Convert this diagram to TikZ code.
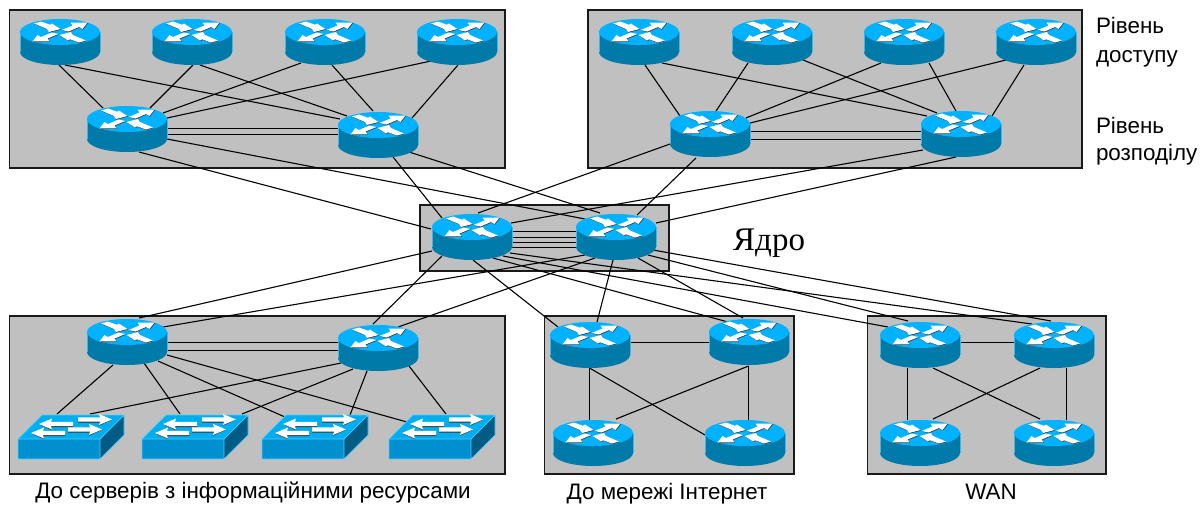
\documentclass[tikz,border=0pt]{standalone}
\usepackage{fontspec}
\setmainfont{Liberation Sans}
\newfontfamily\serfont{Liberation Serif}
\definecolor{rtrtop}{HTML}{00B2FF}
\definecolor{rtrside}{HTML}{007AA8}
\definecolor{rtredge}{HTML}{40B8E8}
\definecolor{swtop}{HTML}{00AEF0}
\definecolor{swfront}{HTML}{0090D0}
\definecolor{swside}{HTML}{005C85}
\definecolor{swedge}{HTML}{50CCFF}
\definecolor{panelgrey}{HTML}{C0C0C0}
\pgfdeclarelayer{panels}
\pgfdeclarelayer{links}
\pgfsetlayers{panels,links,main}
% router arrows, relative to the centre of the top ellipse
\newcommand\rtrpoly[1]{%
  \fill[#1] (-26,-8.5)--(-19,-10.5)--(-10,-7.3)--(-8,-8.5)--(0.5,-3)--(-11,0)--(-13,-3)--cycle;
  \fill[#1] (1.5,-2)--(12.5,-6.5)--(10.5,-9.3)--(27.5,-9.5)--(22.5,-3)--(19,-5)--(8.5,-0.5)--cycle;
  \fill[#1] (-1.5,2)--(-12.5,6.5)--(-10.5,9.3)--(-27.5,9.5)--(-22.5,3)--(-19,5)--(-8.5,0.5)--cycle;
  \fill[#1] (26,8.5)--(19,10.5)--(10,7.3)--(8,8.5)--(-0.5,3)--(11,0)--(13,3)--cycle;
}
\newcommand\rtr[3]{%
  \node[rtrnode] (#1) at (#2,#3) {};
  \begin{scope}[shift={(#2,#3)}]
    \fill[rtrside] (-40,-10)--(-40,10) arc[start angle=180,end angle=0,x radius=40,y radius=13]--(40,-10)--cycle;
    \draw[rtredge,line width=0.6pt] (-40,-10)--(-40,10) (40,-10)--(40,10);
    \fill[rtrtop] (0,-10) ellipse[x radius=40,y radius=13];
    \begin{scope}[shift={(0.5,-9.4)}]\rtrpoly{black!80}\end{scope}
    \begin{scope}[shift={(0,-10)}]\rtrpoly{white}\end{scope}
  \end{scope}}
\newcommand\swa[3]{%
  \begin{scope}[shift={(#1,#2)},xscale=#3]
    \fill[black!80] (0.5,0.6)--(13,6.2)--(12,3)--(34,3)--(34,1)--(12,1)--cycle;
    \fill[white] (0,0)--(13,-5.5)--(12,-2.2)--(34,-2.2)--(34,2.2)--(12,2.2)--(13,5.5)--cycle;
  \end{scope}}
\newcommand\swt[3]{%
  \node[swnode] (#1) at (#2,#3) {};
  \begin{scope}[shift={(#2,#3)}]
    \fill[swtop] (-53,2)--(-29,-22)--(53,-22)--(29,2)--cycle;
    \fill[swfront] (-53,2) rectangle (29,22);
    \fill[swside] (29,2)--(53,-22)--(53,-2)--(29,22)--cycle;
    \draw[swedge,line width=0.7pt,line join=round] (-53,2)--(-29,-22)--(53,-22)--(29,2)--cycle (-53,2)--(-53,22)--(29,22)--(29,2) (29,22)--(53,-2)--(53,-22);
    \swa{-32}{-13}{1}
    \swa{41}{-17.5}{-1}
    \swa{-40}{-4}{1}
    \swa{31}{-7.5}{-1}
  \end{scope}}
\newcommand\cn[4]{\draw[linkline] ([shift={(#2)}]#1.center) -- ([shift={(#4)}]#3.center);}
\tikzset{
  rtrnode/.style={rectangle,inner sep=0pt,outer sep=0pt,minimum width=80pt,minimum height=46pt},
  swnode/.style={rectangle,inner sep=0pt,outer sep=0pt,minimum width=106pt,minimum height=44pt},
  panel/.style={fill=panelgrey,draw=black!90,line width=1.1pt},
  linkline/.style={draw=black,line width=1.1pt},
  lbl/.style={inner sep=0pt,outer sep=0pt,font=\fontsize{22.4}{26}\selectfont}
}
\begin{document}
\begin{tikzpicture}[x=1pt,y=-1pt]
\useasboundingbox (0,0) rectangle (1201,504);
\begin{pgfonlayer}{panels}
  \fill[white] (0,0) rectangle (1201,504);
  \draw[panel] (9.5,10) rectangle (505,168);
  \draw[panel] (588,10) rectangle (1082,168);
  \draw[panel] (420,205) rectangle (669,271);
  \draw[panel] (9.5,316) rectangle (505,474);
  \draw[panel] (544.5,316) rectangle (794,474);
  \draw[panel] (867.5,316) rectangle (1106,474);
\end{pgfonlayer}
% routers
\rtr{A1}{60}{42}
\rtr{A2}{192}{42}
\rtr{A3}{325}{42}
\rtr{A4}{457}{42}
\rtr{D1}{127}{129}
\rtr{D2}{378}{135}
\rtr{B1}{639}{42}
\rtr{B2}{772}{42}
\rtr{B3}{904}{42}
\rtr{B4}{1036}{42}
\rtr{E1}{710}{134}
\rtr{E2}{961}{134}
\rtr{C1}{472}{237}
\rtr{C2}{616}{237}
\rtr{F1}{127}{342}
\rtr{F2}{378}{348}
\rtr{I1}{590}{345}
\rtr{I2}{749}{342}
\rtr{I3}{593}{443}
\rtr{I4}{745}{443}
\rtr{W1}{920}{345}
\rtr{W2}{1054}{345}
\rtr{W3}{920}{443}
\rtr{W4}{1054}{443}
% switches
\swt{S1}{71}{437}
\swt{S2}{195}{437}
\swt{S3}{315}{437}
\swt{S4}{442}{437}
% connectors
\begin{pgfonlayer}{links}
\cn{A1}{-1,23}{D1}{-24,-21}
\cn{A1}{5,23}{D2}{-38,-16}
\cn{A2}{1,23}{D1}{23,-21}
\cn{A2}{8,23}{D2}{-31,-19}
\cn{A3}{-24,21}{D1}{36,-16}
\cn{A3}{7,23}{D2}{-5,-24}
\cn{A4}{-26,19}{D1}{40,-11}
\cn{A4}{1,23}{D2}{34,-17}
\cn{D1}{40,-0.5}{D2}{-40,-6.5}
\cn{D1}{40,5.5}{D2}{-40,-0.5}
\cn{D1}{40,10}{C2}{-31,-18}
\cn{D1}{12,23}{C1}{-41,-8}
\cn{D2}{15,22}{C1}{-30,-19}
\cn{D2}{31,17}{C2}{-16,-24}
\cn{B1}{6,23}{E1}{-30,-18}
\cn{B1}{23,21}{E2}{-34,-18}
\cn{B2}{-24,21}{E1}{6,-23}
\cn{B2}{31,18}{E2}{-24,-21}
\cn{B3}{-23,21}{E1}{36,-16}
\cn{B3}{25,21}{E2}{-5,-23}
\cn{B4}{-30,18}{E1}{40,-11}
\cn{B4}{-12,23}{E2}{31,-18}
\cn{E1}{40,-2.5}{E2}{-40,-2.5}
\cn{E1}{40,5.5}{E2}{-40,5.5}
\cn{E1}{-40,10}{C1}{6,-24}
\cn{E1}{-14,24}{C2}{21,-22}
\cn{E2}{-38,16}{C1}{39,-14}
\cn{E2}{-5,23}{C2}{40,-14}
\cn{C1}{39,-5.5}{C2}{-40,-5.5}
\cn{C1}{39,0.5}{C2}{-40,0.5}
\cn{C1}{39,5.5}{C2}{-40,5.5}
\cn{C1}{39,10.5}{C2}{-40,10.5}
\cn{C1}{-40,14}{F1}{12,-24}
\cn{C1}{-30,19}{F2}{-5,-24}
\cn{C2}{-31,18}{F1}{36,-15}
\cn{C2}{-21,21}{F2}{20,-21}
\cn{C1}{1,23}{I1}{-32,-18}
\cn{C2}{-3,23}{I1}{7,-23}
\cn{C1}{21,21}{I2}{-21,-20}
\cn{C2}{22,21}{I2}{-6,-24}
\cn{C1}{31,19}{W1}{-32,-18}
\cn{C1}{38,16}{W2}{-22,-21}
\cn{C2}{32,18}{W1}{-12,-24}
\cn{C2}{37,13}{W2}{-3,-24}
\cn{F1}{40,0.5}{F2}{-40,-5.5}
\cn{F1}{40,8.5}{F2}{-40,2.5}
\cn{F1}{-14,23}{S1}{-14,-23}
\cn{F1}{17,21}{S2}{-15,-23}
\cn{F1}{31,19}{S3}{-30,-20}
\cn{F1}{40,13}{S4}{-35,-15}
\cn{F2}{-37,15}{S1}{19,-23}
\cn{F2}{-25,21}{S2}{47,-23}
\cn{F2}{-11,23}{S3}{35,-22}
\cn{F2}{31,18}{S4}{4,-23}
\cn{I1}{40,-2.5}{I2}{-40,0.5}
\cn{I1}{-0.5,23}{I3}{-3.5,-23}
\cn{I1}{-0.5,23}{I4}{-40,-8}
\cn{I2}{-0.5,24}{I3}{23,-24}
\cn{I2}{-0.5,24}{I4}{3.5,-23}
\cn{W1}{40,-2.5}{W2}{-40,-2.5}
\cn{W1}{-12.5,23}{W3}{-12.5,-23}
\cn{W1}{13,23}{W4}{-14,-24}
\cn{W2}{-14,23}{W3}{13,-24}
\cn{W2}{12.5,23}{W4}{12.5,-23}
\end{pgfonlayer}
% labels
\node[lbl,anchor=base west] (t1) at (1096,33) {Рівень};
\node[lbl,anchor=base west] (t2) at (1096,62) {доступу};
\node[lbl,anchor=base west] (t3) at (1096,133) {Рівень};
\node[lbl,anchor=base west] (t4) at (1096,160) {розподілу};
\node[inner sep=0pt,anchor=base west,font=\serfont\fontsize{33}{37}\selectfont] (t5) at (733,250) {Ядро};
\node[lbl,anchor=base] (t6) at (253,498.5) {До серверів з інформаційними ресурсами};
\node[lbl,anchor=base] (t7) at (667,499) {До мережі Інтернет};
\node[lbl,anchor=base] (t8) at (991,499) {WAN};
\end{tikzpicture}
\end{document}
